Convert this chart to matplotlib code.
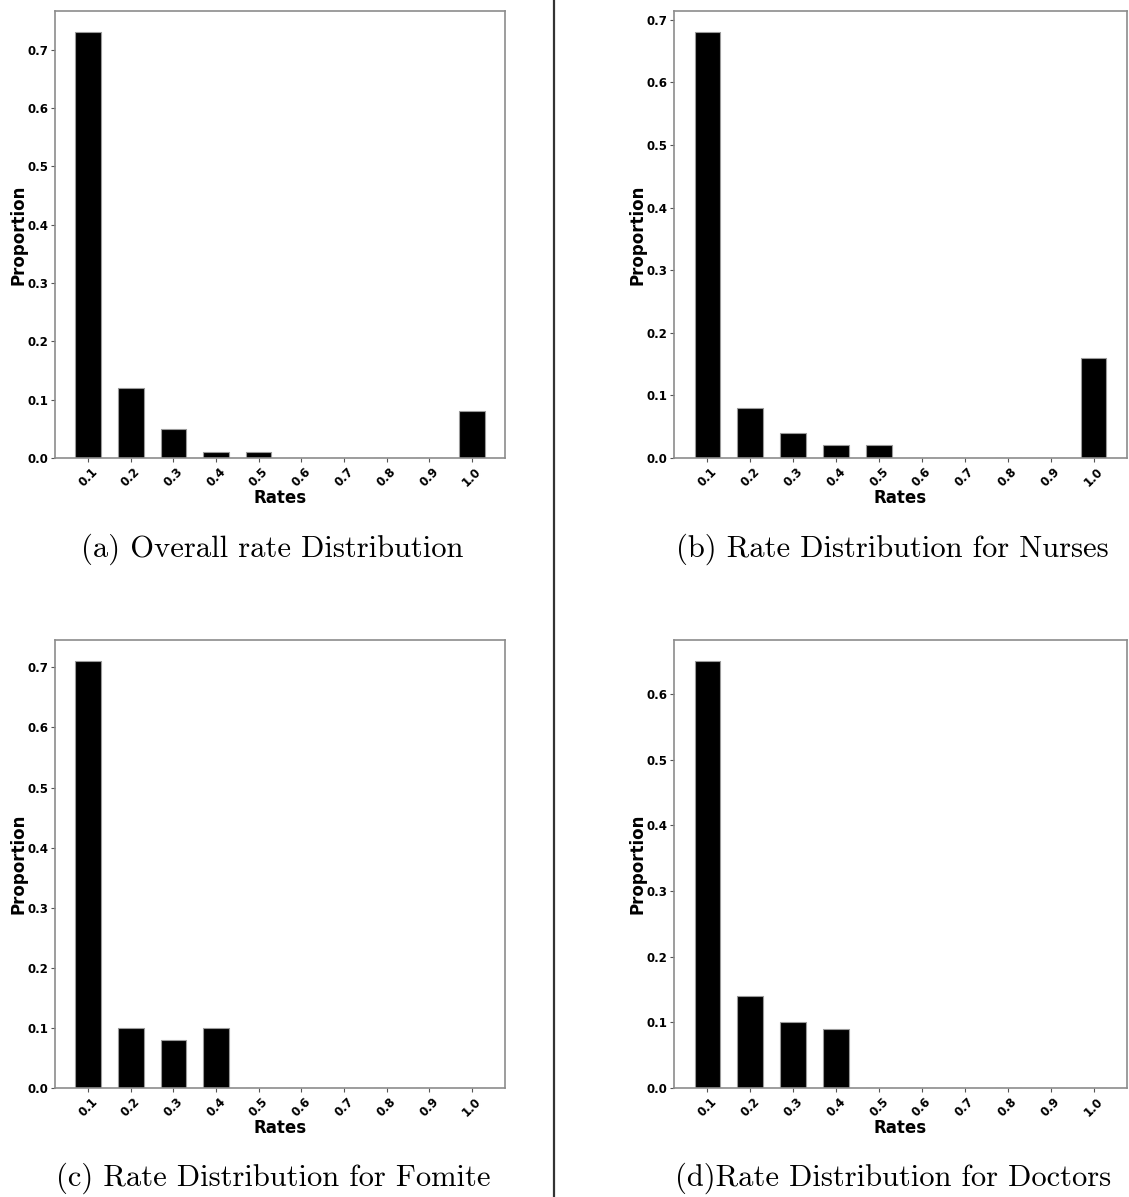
#!/usr/bin/env python3
import numpy as np
import matplotlib
matplotlib.use("Agg")
import matplotlib.pyplot as plt
from matplotlib.lines import Line2D

rates = ["0.1", "0.2", "0.3", "0.4", "0.5", "0.6", "0.7", "0.8", "0.9", "1.0"]

overall = [0.73, 0.12, 0.05, 0.01, 0.01, 0.0, 0.0, 0.0, 0.0, 0.08]
nurses = [0.68, 0.08, 0.04, 0.02, 0.02, 0.0, 0.0, 0.0, 0.0, 0.16]
fomite = [0.71, 0.10, 0.08, 0.10, 0.0, 0.0, 0.0, 0.0, 0.0, 0.0]
doctors = [0.65, 0.14, 0.10, 0.09, 0.0, 0.0, 0.0, 0.0, 0.0, 0.0]

captions = ["(a) Overall rate Distribution",
            "(b) Rate Distribution for Nurses",
            "(c) Rate Distribution for Fomite",
            "(d)Rate Distribution for Doctors"]

W, H = 1129, 1197


def rect(x0, y0, x1, y1):
    # pixel box -> figure fraction
    return [x0 / W, 1 - y1 / H, (x1 - x0) / W, (y1 - y0) / H]


def rate_bars(ax, values):
    x = np.arange(len(rates))
    ax.bar(x, values, width=0.6, color="black", edgecolor="#9a9a9a", linewidth=0.8)
    ax.set_xticks(x)
    ax.set_xticklabels(rates, rotation=45, fontsize=8.5, fontweight="bold")
    for lab in ax.get_yticklabels():
        lab.set_fontsize(8.5)
        lab.set_fontweight("bold")
    ax.set_xlabel("Rates", fontsize=12, fontweight="bold", labelpad=0)
    ax.set_ylabel("Proportion", fontsize=12, fontweight="bold", labelpad=0)
    for s in ax.spines.values():
        s.set_color("#8c8c8c")
        s.set_linewidth(1.2)
    ax.tick_params(colors="#555555", labelcolor="black", length=3, pad=2)


fig = plt.figure(figsize=(W / 100, H / 100), dpi=100)

boxes = [rect(55, 11, 505, 458), rect(674, 11, 1127, 458),
         rect(55, 640, 505, 1088), rect(674, 640, 1127, 1088)]
series = [overall, nurses, fomite, doctors]

for box, vals in zip(boxes, series):
    ax = fig.add_axes(box)
    rate_bars(ax, vals)

cap_pos = [(272, 549), (892, 549), (273, 1178), (893, 1178)]
for (cx, cy), txt in zip(cap_pos, captions):
    fig.text(cx / W, 1 - cy / H, txt, family="cmr10", fontsize=22,
             ha="center", va="center")

# divider between the two columns
fig.add_artist(Line2D([554 / W, 554 / W], [0, 1], color="#333333", lw=1.6))

fig.savefig("out.png", dpi=100)
